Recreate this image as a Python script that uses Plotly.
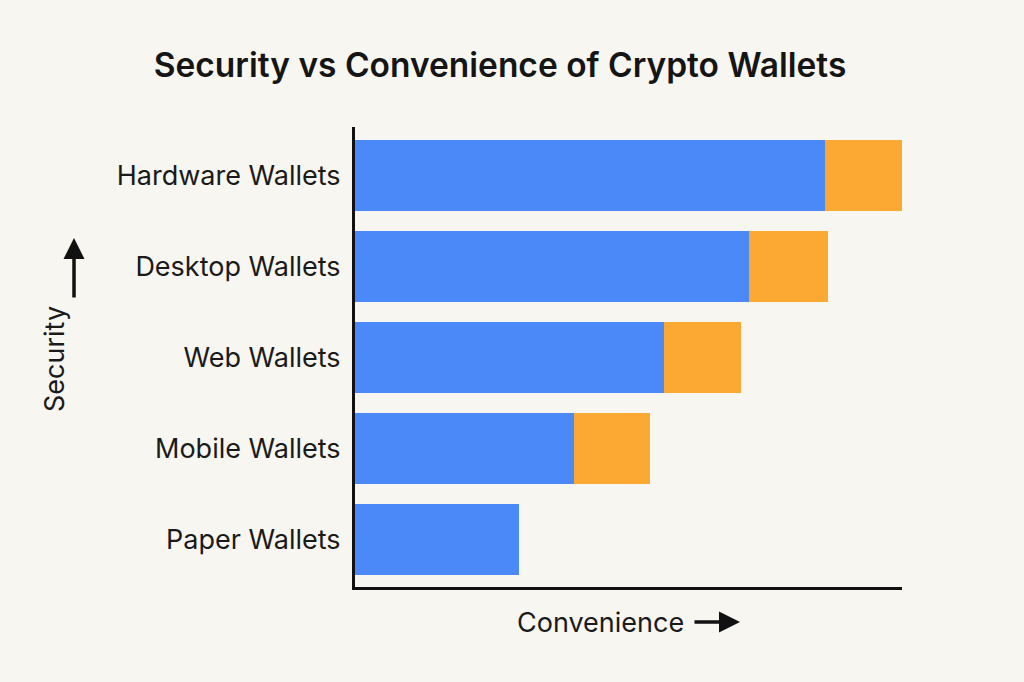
import plotly.graph_objects as go

categories = ["Hardware Wallets", "Desktop Wallets", "Web Wallets", "Mobile Wallets", "Paper Wallets"]
security_part = [86, 72, 56.5, 40, 30]
convenience_part = [14, 14.5, 14, 14, 0]

BG = "#F8F6F1"
BLUE = "#4A89F7"
ORANGE = "#FBA933"
INK = "#111111"
TXT = "#1a1a1a"

fig = go.Figure()
fig.add_trace(go.Bar(y=categories, x=security_part, orientation="h",
                     marker=dict(color=BLUE, line=dict(width=0)), showlegend=False,
                     hoverinfo="skip"))
fig.add_trace(go.Bar(y=categories, x=convenience_part, orientation="h",
                     marker=dict(color=ORANGE, line=dict(width=0)), showlegend=False,
                     hoverinfo="skip"))

fig.update_layout(
    barmode="stack",
    bargap=0.21,
    width=1024, height=682,
    paper_bgcolor=BG, plot_bgcolor=BG,
    margin=dict(l=355, r=122, t=127, b=95),
    font=dict(family="Inter, Roboto, sans-serif", color=TXT),
    title=dict(text="Security vs Convenience of Crypto Wallets",
               x=0.4883, xanchor="center", y=0.905, yanchor="middle",
               font=dict(size=33.5, family="Inter, sans-serif", weight=600, color="#151515")),
    xaxis=dict(range=[0, 100], showgrid=False, zeroline=False, showticklabels=False,
               ticks="", showline=True, linewidth=3, linecolor=INK, fixedrange=True),
    yaxis=dict(categoryorder="array", categoryarray=categories, range=[4.522, -0.533],
               showgrid=False, zeroline=False, ticks="", ticklabelstandoff=6,
               tickfont=dict(size=27, color=TXT),
               showline=True, linewidth=3, linecolor=INK),
    annotations=[
        dict(text="Convenience", xref="paper", yref="paper",
             x=0.448, y=-0.078, xanchor="center", yanchor="middle", showarrow=False,
             font=dict(size=27, color=TXT)),
        dict(text="Security", xref="paper", yref="paper", textangle=-90,
             x=-0.5484, y=0.4957, xanchor="center", yanchor="middle", showarrow=False,
             font=dict(size=27, color=TXT)),
        dict(text="", xref="paper", yref="paper", x=0.7038, y=-0.0761,
             ax=-47, ay=0, showarrow=True, arrowhead=2, arrowsize=1.2,
             arrowwidth=3.5, arrowcolor=INK, standoff=0),
        dict(text="", xref="paper", yref="paper", x=-0.5137, y=0.7587,
             ax=0, ay=61, showarrow=True, arrowhead=2, arrowsize=1.2,
             arrowwidth=3.5, arrowcolor=INK, standoff=0),
    ],
)

fig.write_html("out.html")
